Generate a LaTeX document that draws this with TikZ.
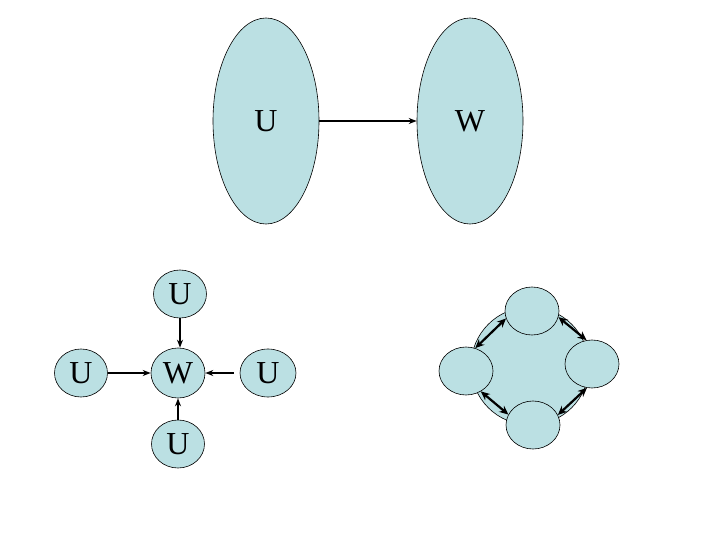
\documentclass[tikz,border=0pt]{standalone}
\usepackage{fontspec}
\setmainfont{Liberation Serif}
\usetikzlibrary{shapes.geometric, arrows.meta}
\definecolor{cellblue}{RGB}{187,224,227}

\begin{document}
\begin{tikzpicture}[x=1pt, y=-1pt,
    cell/.style={ellipse, draw, line width=0.6pt, fill=cellblue, inner sep=0pt,
                 font=\fontsize{32}{36}\selectfont},
    bigcell/.style={cell, minimum width=106pt, minimum height=206pt},
    smallcell/.style={cell, minimum width=53pt, minimum height=48pt},
    feed/.style={line width=1.3pt, -{Stealth[length=8pt, width=6pt]}},
    swap/.style={line width=2.2pt, {Stealth[length=9pt, width=8pt]}-{Stealth[length=9pt, width=8pt]}}]
    \useasboundingbox (0,0) rectangle (720,540);

    % top: one set into the other
    \node [bigcell] (bigU) at (266,121) {U};
    \node [bigcell] (bigW) at (470,121) {W};
    \draw [feed] (bigU) -- (bigW);

    % bottom left: four U around one W
    \node [smallcell, minimum width=54pt, minimum height=50pt] (midW) at (178,373) {W};
    \node [smallcell] (topU)   at (180,294) {U};
    \node [smallcell] (leftU)  at (81,373)  {U};
    \node [smallcell, minimum width=56pt] (rightU) at (268,373) {U};
    \node [smallcell] (lowU)   at (178,444) {U};

    % Now draw the lines:
    \draw [feed] (topU) -- (topU |- midW.north);
    \draw [feed] (leftU) -- (midW);
    \draw [feed, shorten <=6pt] (rightU) -- (midW);
    \draw [feed] (lowU) -- (midW);

    % bottom right: a ring of four
    \node [circle, draw, line width=0.6pt, fill=cellblue, minimum size=118pt] (ring) at (530,366) {};
    \node [smallcell, minimum width=54pt] (ringN) at (532,311) {};
    \node [smallcell, minimum width=54pt] (ringW) at (466,371) {};
    \node [smallcell, minimum width=54pt] (ringE) at (592,364) {};
    \node [smallcell, minimum width=54pt] (ringS) at (533,425) {};

    \draw [swap] (ringN.196) -- (ringW.68);
    \draw [swap] (ringN.347) -- (ringE.103);
    \draw [swap] (ringW.306) -- (ringS.157);
    \draw [swap] (ringS.22)  -- (ringE.258);
\end{tikzpicture}
\end{document}
